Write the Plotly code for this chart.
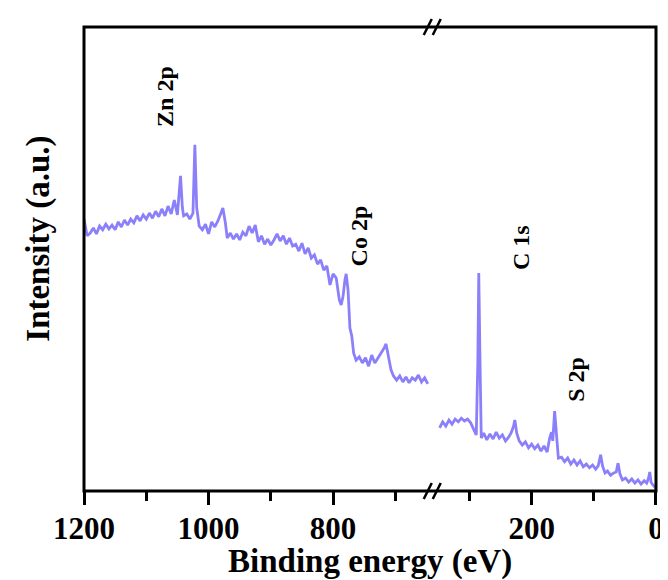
import plotly.graph_objects as go

# ---- data ----
ev_high = [1200, 1195, 1190, 1185, 1180, 1175, 1170, 1165, 1160, 1155, 1150, 1145, 1140, 1135, 1130,
           1125, 1120, 1115, 1110, 1105, 1100, 1095, 1090, 1085, 1080, 1075, 1070, 1065, 1060, 1055,
           1050, 1045, 1042, 1040, 1035, 1030, 1025, 1022, 1019, 1015, 1010, 1005, 1000, 995, 990,
           985, 980, 977, 973, 970, 965, 960, 955, 950, 945, 940, 935, 930, 925, 920,
           915, 910, 905, 900, 895, 890, 885, 880, 875, 870, 865, 860, 855, 850, 845,
           840, 835, 830, 825, 820, 815, 810, 805, 800, 795, 790, 787, 784, 781, 779,
           776, 773, 770, 767, 763, 758, 753, 748, 743, 738, 733, 728, 723, 718, 715,
           711, 707, 703, 698, 693, 688, 683, 678, 673, 668, 663, 658, 653, 648]
int_high = [58.6, 55.0, 55.6, 56.7, 55.4, 57.1, 56.3, 57.5, 56.5, 57.3, 56.3, 58.0, 56.9, 58.4, 57.3,
            58.6, 57.8, 59.3, 58.2, 59.5, 58.6, 59.9, 58.8, 60.3, 59.1, 60.8, 59.3, 61.4, 59.7, 62.7,
            59.5, 67.9, 61.0, 59.3, 59.7, 58.6, 59.9, 74.6, 61.0, 57.1, 56.3, 57.5, 55.4, 58.0, 56.9,
            58.2, 59.9, 61.0, 57.8, 54.5, 55.6, 54.3, 55.4, 54.1, 55.8, 55.0, 57.1, 55.6, 57.3, 53.7,
            55.0, 53.2, 54.3, 53.0, 54.1, 55.4, 53.9, 55.0, 53.2, 54.5, 52.8, 53.2, 51.7, 53.4, 51.1,
            52.4, 50.2, 50.9, 48.9, 49.8, 47.6, 48.5, 44.4, 46.8, 45.9, 41.2, 40.1, 42.0, 45.5, 46.8,
            43.3, 35.1, 33.4, 29.7, 28.2, 28.9, 27.6, 28.7, 26.9, 29.3, 27.6, 28.7, 29.5, 30.8, 31.7,
            28.7, 26.1, 24.8, 23.9, 24.8, 23.5, 24.6, 23.3, 24.4, 23.9, 25.0, 23.5, 24.4, 23.1]

ev_low = [348, 343, 338, 333, 328, 323, 318, 313, 308, 303, 298, 293, 289, 286.5, 285,
          283, 281, 277, 272, 267, 262, 257, 252, 247, 242, 237, 233, 229, 227, 224,
          220, 215, 210, 205, 200, 195, 190, 185, 180, 175, 171, 168, 166, 163, 160,
          157, 152, 147, 142, 137, 132, 127, 122, 117, 112, 107, 102, 97, 93, 89,
          86, 82, 78, 73, 68, 64, 61, 58, 54, 49, 44, 39, 34, 29, 24,
          19, 15, 12, 10, 8, 5, 2, 0]
int_low = [13.6, 14.9, 14.0, 15.3, 14.4, 15.5, 14.9, 15.7, 15.1, 15.5, 14.7, 13.1, 12.1, 28.0, 47.0,
           28.0, 11.4, 12.5, 11.0, 12.3, 11.2, 12.7, 11.4, 12.1, 10.8, 11.6, 12.5, 14.0, 15.3, 12.5,
           10.8, 9.9, 10.6, 9.3, 10.1, 9.1, 9.9, 8.6, 9.7, 8.4, 11.4, 12.7, 10.8, 17.2, 11.4,
           7.1, 7.3, 6.3, 7.1, 5.8, 6.7, 5.6, 6.5, 5.2, 5.8, 5.0, 5.6, 4.7, 5.4, 7.8,
           5.4, 3.9, 4.3, 3.4, 3.9, 4.1, 6.0, 3.7, 2.4, 2.8, 1.9, 2.6, 1.7, 2.4, 1.5,
           2.2, 1.7, 2.8, 4.1, 1.9, 1.3, 0.9, 1.1]

peak_labels = ["Zn 2p", "Co 2p", "C 1s", "S 2p"]
peak_label_ev = [1071, 759, 216, 130]
peak_label_int = [85.0, 55.0, 52.5, 24.0]
peak_label_axis = ["x", "x", "x2", "x2"]

high_ticks = [1200, 1000, 800]
high_minor = [1100, 900, 700]
low_ticks = [200, 0]
low_minor = [300, 100]

LINE_COLOR = "#8B80F9"
FONT = "Liberation Serif"
brk = 0.6097

fig = go.Figure()
fig.add_trace(go.Scatter(x=ev_high, y=int_high, mode="lines", xaxis="x", yaxis="y",
                         line=dict(color=LINE_COLOR, width=2.8), showlegend=False))
fig.add_trace(go.Scatter(x=ev_low, y=int_low, mode="lines", xaxis="x2", yaxis="y",
                         line=dict(color=LINE_COLOR, width=2.8), showlegend=False))

tickfont = dict(family=FONT, size=31, color="black", weight="bold")
common = dict(showgrid=False, zeroline=False, showline=False, ticks="outside", ticklen=13,
              tickwidth=2.5, tickcolor="black", tickfont=tickfont, anchor="y",
              ticklabelstandoff=-3)
fig.update_layout(
    width=668, height=580,
    margin=dict(l=76, r=12, t=19, b=97),
    plot_bgcolor="white", paper_bgcolor="white",
    xaxis=dict(domain=[0, brk], range=[1200, 640], tickvals=high_ticks,
               minor=dict(tickvals=high_minor, ticks="outside", ticklen=9, tickwidth=2.5, tickcolor="black"),
               **common),
    xaxis2=dict(domain=[brk, 1], range=[359, 0], tickvals=low_ticks,
                minor=dict(tickvals=low_minor, ticks="outside", ticklen=9, tickwidth=2.5, tickcolor="black"),
                **common),
    yaxis=dict(range=[0, 100], showgrid=False, zeroline=False, showline=False,
               showticklabels=False, ticks="", domain=[0, 1]),
)

# frame
fig.add_shape(type="rect", xref="paper", yref="paper", x0=0, x1=1, y0=0, y1=1,
              line=dict(color="black", width=3), layer="above")
# break marks (top and bottom)
for ya in (0, 1):
    for dx in (-5, 4):
        fig.add_shape(type="line", xref="paper", yref="paper", xsizemode="pixel", ysizemode="pixel",
                      xanchor=brk, yanchor=ya, x0=dx - 4, x1=dx + 4, y0=-8, y1=8,
                      line=dict(color="black", width=2.5), layer="above")

# axis titles
fig.add_annotation(text="Binding energy (eV)", xref="paper", yref="paper", x=0.5, y=-0.151,
                   showarrow=False, xanchor="center", yanchor="middle",
                   font=dict(family=FONT, size=33, color="black", weight="bold"))
fig.add_annotation(text="Intensity (a.u.)", xref="paper", yref="paper", x=-0.081, y=0.543,
                   showarrow=False, textangle=-90, xanchor="center", yanchor="middle",
                   font=dict(family=FONT, size=33, color="black", weight="bold"))

# peak labels
for lab, xe, yi, ax in zip(peak_labels, peak_label_ev, peak_label_int, peak_label_axis):
    fig.add_annotation(text=lab, xref=ax, yref="y", x=xe, y=yi, showarrow=False, textangle=-90,
                       xanchor="center", yanchor="middle",
                       font=dict(family=FONT, size=24, color="black", weight="bold"))

fig.write_html("out.html")
